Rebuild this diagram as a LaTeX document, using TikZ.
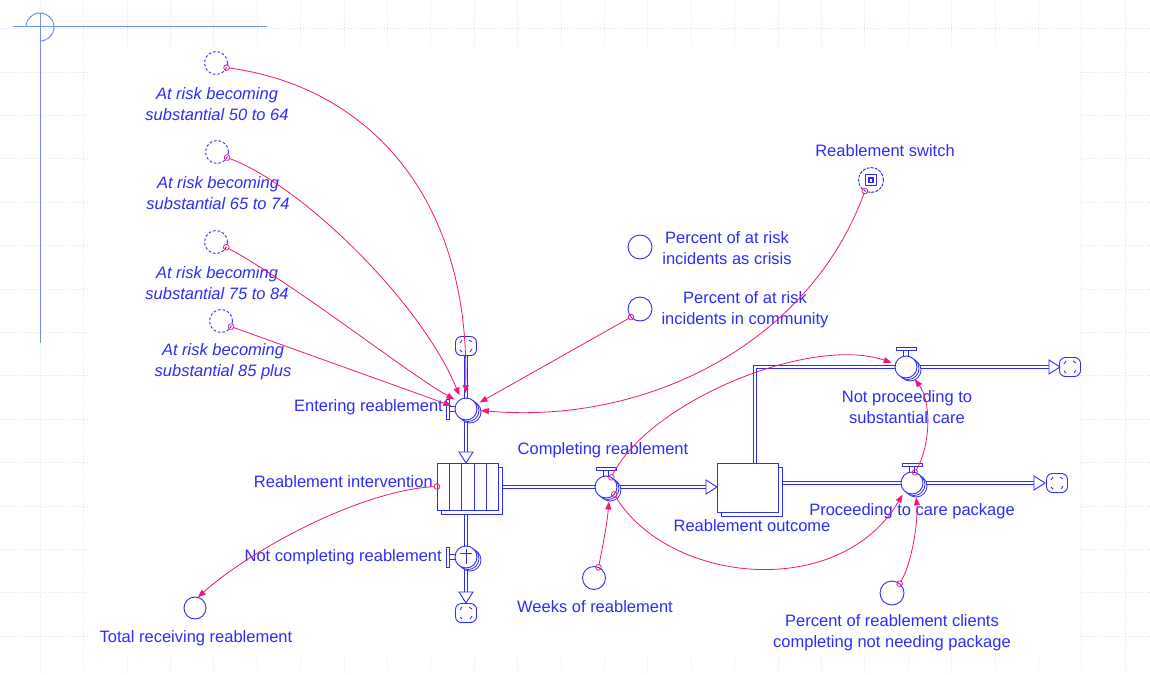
\documentclass[tikz,border=0pt]{standalone}
\usepackage{fontspec}
\setmainfont{Liberation Sans}
\usetikzlibrary{arrows.meta}

\definecolor{vblue}{RGB}{45,45,250}
\definecolor{vpink}{RGB}{245,20,120}
\definecolor{gridc}{RGB}{218,225,250}
\definecolor{crossc}{RGB}{115,145,235}

% valve circle with two offset rims behind it
\newcommand\valveat[3]{%
  \node[valverim] (#1r2) at ({#2+4},{#3+3}) {};
  \node[valverim] (#1r1) at ({#2+2},{#3+1.5}) {};
  \node[valve] (#1) at (#2,#3) {};
}
% T-handle above a valve on a horizontal pipe
\newcommand\handletop[2]{%
  \draw[pipeline, fill=white] ({#1-10},{#2-19.5}) rectangle ({#1+10},{#2-16.5});
  \draw[pipeline] ({#1-2.5},{#2-16.5}) -- ({#1-2.5},{#2-10.5}) ({#1+2.5},{#2-16.5}) -- ({#1+2.5},{#2-10.5});
}
% T-handle left of a valve on a vertical pipe
\newcommand\handleleft[2]{%
  \draw[pipeline, fill=white] ({#1-19.5},{#2-10}) rectangle ({#1-16.5},{#2+10});
  \draw[pipeline] ({#1-16.5},{#2-2.5}) -- ({#1-10.5},{#2-2.5}) ({#1-16.5},{#2+2.5}) -- ({#1-10.5},{#2+2.5});
}
% hollow flow heads (tip at the given point)
\newcommand\headdown[2]{%
  \draw[pipeline, fill=white] (#1,#2) -- ({#1-7},{#2-11}) -- ({#1+7},{#2-11}) -- cycle;
}
\newcommand\headright[2]{%
  \draw[pipeline, fill=white] (#1,#2) -- ({#1-11},{#2-7}) -- ({#1-11},{#2+7}) -- cycle;
}

\begin{document}
\begin{tikzpicture}[x=1pt,y=-1pt,
  lbl/.style={text=vblue, font=\fontsize{16.5}{21}\selectfont, align=center, inner sep=0pt},
  ilbl/.style={lbl, font=\fontsize{16.5}{21}\selectfont\itshape},
  aux/.style={circle, draw=vblue, line width=0.9pt, minimum size=23pt, inner sep=0pt, outer sep=0pt},
  shadowaux/.style={aux, dash pattern=on 2.6pt off 2pt},
  valve/.style={circle, draw=vblue, fill=white, line width=0.9pt, minimum size=22pt, inner sep=0pt, outer sep=0pt},
  valverim/.style={valve, line width=0.8pt},
  stockbox/.style={rectangle, draw=vblue, fill=white, line width=0.9pt, inner sep=0pt, outer sep=0pt},
  pipeline/.style={draw=vblue, line width=0.9pt},
  pipe/.style={draw=vblue, line width=0.9pt, double=white, double distance=2.4pt},
  link/.style={draw=vpink, line width=0.8pt,
    {Circle[open,length=6.5pt,width=6.5pt]}-{Triangle[length=8pt,width=6pt]}, shorten <=-3.2pt},
  gridline/.style={draw=gridc, line width=0.6pt, dash pattern=on 1.2pt off 1.8pt},
  srcsink/.pic={
    \draw[pipeline, fill=white, rounded corners=6pt] (-10.5,-9.5) rectangle (10.5,9.5);
    \draw[draw=vblue, line width=0.8pt] (-6,-3) -- (-4,-6) (3,-6) -- (6,-4) (6,3) -- (4,6) (-4,6) -- (-6,4);
  }
]
\useasboundingbox (0,0) rectangle (1150,674);
\fill[white] (0,0) rectangle (1150,674);

% page grid in the margins
\foreach \i in {-1,...,26} \draw[gridline] ({40+43.4*\i},0) -- ({40+43.4*\i},674);
\foreach \j in {-1,...,15} \draw[gridline] (0,{28.5+43.4*\j}) -- (1150,{28.5+43.4*\j});
\fill[white] (93,48) rectangle (1080,656);

% origin marker
\draw[crossc, line width=1pt] (13,27) -- (267,27) (40,13) -- (40,343);
\draw[crossc, line width=1pt] (40,41) arc[start angle=90, end angle=-180, radius=14];

% ---------- pipes ----------
\draw[pipe] (466,355) -- (466,452);
\draw[pipe] (466,512) -- (466,592);
\draw[pipe] (503,487) -- (706,487);
\draw[pipe] (755,463) -- (755,367) -- (1049,367);
\draw[pipe] (782,483) -- (1034,483);

% ---------- sources and sinks ----------
\pic at (466,346) {srcsink};
\pic at (466,613) {srcsink};
\pic at (1070,367) {srcsink};
\pic at (1057,483) {srcsink};

% ---------- stocks ----------
\node[stockbox, minimum width=61pt, minimum height=47pt] (stkb) at (472,490.5) {};
\node[stockbox, minimum width=61pt, minimum height=47pt] (stk) at (467.5,486.5) {};
\foreach \x in {449,461.5,474,486} \draw[pipeline] (\x,463) -- (\x,510);
\node[stockbox, minimum width=61pt, minimum height=49pt] (outb) at (752,491.5) {};
\node[stockbox, minimum width=61pt, minimum height=49pt] (out) at (747.5,487.5) {};

\headdown{466}{463}
\headdown{466}{603}
\headright{717}{487}
\headright{1060}{367}
\headright{1045}{483}

% ---------- valves ----------
\handleleft{466}{409}
\valveat{ent}{466}{409}
\handleleft{466}{557}
\valveat{ncr}{466}{557}
\draw[pipeline] (466,549) -- (466,564) (460,553) -- (472,553);
\handletop{606}{487}
\valveat{comp}{606}{487}
\handletop{906}{367}
\valveat{np}{906}{367}
\handletop{912}{483}
\valveat{pc}{912}{483}

% ---------- auxiliaries ----------
\node[shadowaux] (c5064) at (216,63) {};
\node[shadowaux] (c6574) at (217,152) {};
\node[shadowaux] (c7584) at (216,242) {};
\node[shadowaux] (c85) at (221,321) {};
\node[aux, minimum size=25pt, dash pattern=on 3pt off 1.2pt] (sw) at (871,180) {};
\draw[pipeline] (865.5,174.5) rectangle (876.5,185.5);
\fill[vblue] (868,177) rectangle (874,183);
\fill[white] (870.3,178.8) rectangle (871.7,181.5);
\node[aux, minimum size=24pt] (crisis) at (640,247) {};
\node[aux, minimum size=24pt] (ccom) at (640,309) {};
\node[aux] (wk) at (594,578) {};
\node[aux, minimum size=24pt] (pcl) at (892,593) {};
\node[aux, minimum size=22pt] (tot) at (195,608) {};

% ---------- labels ----------
\node[ilbl] (t5064) at (217,104) {At risk becoming\\substantial 50 to 64};
\node[ilbl] (t6574) at (218,193) {At risk becoming\\substantial 65 to 74};
\node[ilbl] (t7584) at (217,283) {At risk becoming\\substantial 75 to 84};
\node[ilbl] (t85) at (223,362) {At risk becoming\\substantial 85 plus};
\node[lbl, anchor=east] (tent) at (443,407) {Entering reablement};
\node[lbl, anchor=east] (tstk) at (433,482) {Reablement intervention};
\node[lbl, anchor=east] (tncr) at (442,557) {Not completing reablement};
\node[lbl] (ttot) at (196,638) {Total receiving reablement};
\node[lbl] (tcomp) at (603,450) {Completing reablement};
\node[lbl] (twk) at (595,607) {Weeks of reablement};
\node[lbl] (tout) at (752,526) {Reablement outcome};
\node[lbl] (tnp) at (907,407) {Not proceeding to\\substantial care};
\node[lbl] (tpc) at (912,511) {Proceeding to care package};
\node[lbl] (tpcl) at (892,633) {Percent of reablement clients\\completing not needing package};
\node[lbl] (tsw) at (885,151) {Reablement switch};
\node[lbl] (tcrisis) at (727,248) {Percent of at risk\\incidents as crisis};
\node[lbl] (tcom) at (745,310) {Percent of at risk\\incidents in community};

% ---------- causal links ----------
\draw[link, shorten >=5pt] (c5064.-24) .. controls +(135,18) and +(5,-208) .. (ent.93);
\draw[link, shorten >=4pt] (c6574.-29) .. controls +(73,27) and +(-41,-99) .. (ent.117);
\draw[link, shorten >=4pt] (c7584.-27) .. controls +(70,38) and +(-50,-28) .. (ent.137);
\draw[link, shorten >=4pt] (c85.-29) -- (ent.170);
\draw[link, shorten >=4pt] (ccom.222) -- (ent.24);
\draw[link, shorten >=4pt] (sw.241) .. controls +(-55,150) and +(173,15) .. (ent.-6);
\draw[link] (stk.west) .. controls +(-77,4) and +(52,-47) .. (tot.75);
\draw[link, shorten >=4pt] (wk.67) .. controls +(5,-25) and +(-2,25) .. (comp.-73);
\draw[link, shorten >=4pt] (comp.61) .. controls +(38,-76) and +(-85,-29) .. (np.164);
\draw[link, shorten >=4pt] (comp.-42) .. controls +(55,90) and +(-65,110) .. (pc.228);
\draw[link, shorten >=4pt] (pc.74) .. controls +(17,-31) and +(18,24) .. (np.-55);
\draw[link, shorten >=4pt] (pcl.51) .. controls +(12,-20) and +(2,30) .. (pc.-68);
\end{tikzpicture}
\end{document}
